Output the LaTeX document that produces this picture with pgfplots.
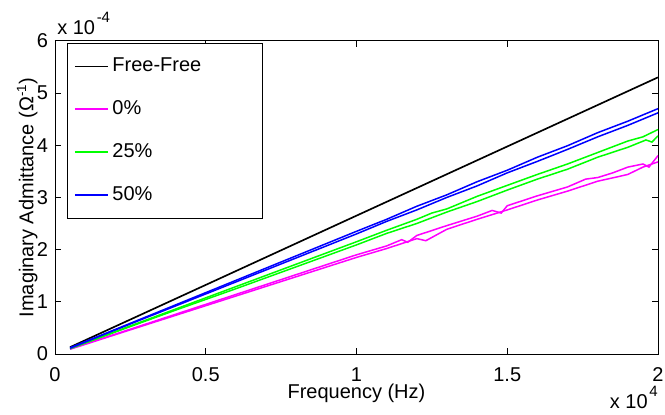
\documentclass[border=0pt]{standalone}
\usepackage{fontspec}
\setmainfont{Liberation Sans}
\usepackage{pgfplots}
\pgfplotsset{compat=1.18}
\definecolor{mmag}{rgb}{1,0,1}
\definecolor{mgreen}{rgb}{0,1,0}
\definecolor{mblue}{rgb}{0,0,1}
\newcommand{\expo}[1]{\hspace{1pt}\raisebox{7.6pt}{\fontsize{9}{10}\selectfont #1}}

\begin{document}
\fontsize{12}{14}\selectfont
\begin{tikzpicture}
\begin{axis}[
  scale only axis,
  width=362pt, height=188pt,
  xmin=0, xmax=2, ymin=0, ymax=6,
  xtick={0,0.5,1,1.5,2}, ytick={0,1,2,3,4,5,6},
  tick align=inside, major tick length=3.6pt,
  tick style={black, thin},
  clip mode=individual,
  /pgf/number format/assume math mode=true,
  xticklabel style={yshift=-3.8pt, inner xsep=0pt},
  xlabel={Frequency (Hz)},
  ylabel={Imaginary Admittance (Ω\textsuperscript{-1})},
  xlabel style={at={([yshift=-27pt]axis description cs:0.5,0)}, anchor=base},
  ylabel style={at={([xshift=-13pt]axis description cs:0,0.5)}, anchor=base},
  legend cell align=left,
  legend style={at={([xshift=7.2pt, yshift=-1.2pt]axis description cs:0,1)}, anchor=north west, draw=black,
    row sep=11.6pt, inner xsep=4pt, inner ysep=7pt},
  legend image code/.code={\draw[#1, line width=1.1pt] (0pt,0pt) -- (20pt,0pt);},
]
% Free-Free
\addplot[black, line width=1pt] coordinates {(0.05,0.13)(0.5,1.323)(1,2.65)(1.5,3.975)(2,5.30)};
\addlegendentry{\makebox[84pt][l]{Free-Free}}
% 0%
\addplot[mmag, line width=0.9pt] coordinates {(0.05,0.10)(0.2,0.38)(0.4,0.76)(0.6,1.14)(0.8,1.52)(1.0,1.90)(1.1,2.07)(1.15,2.19)(1.17,2.14)(1.2,2.27)(1.3,2.46)(1.4,2.64)(1.45,2.75)(1.48,2.70)(1.5,2.84)(1.6,3.03)(1.7,3.20)(1.76,3.35)(1.8,3.38)(1.85,3.47)(1.9,3.58)(1.95,3.64)(1.97,3.58)(2.0,3.80)};
\addlegendentry{0\%}
% 25%
\addplot[mgreen, line width=0.9pt] coordinates {(0.05,0.11)(0.2,0.43)(0.4,0.86)(0.6,1.29)(0.8,1.72)(1.0,2.15)(1.1,2.37)(1.2,2.58)(1.25,2.70)(1.3,2.78)(1.4,3.02)(1.5,3.23)(1.6,3.44)(1.7,3.64)(1.75,3.75)(1.8,3.86)(1.9,4.08)(1.95,4.16)(2.0,4.30)};
\addlegendentry{25\%}
% 50%
\addplot[mblue, line width=0.9pt] coordinates {(0.05,0.12)(0.2,0.47)(0.4,0.94)(0.6,1.41)(0.8,1.88)(1.0,2.35)(1.1,2.58)(1.2,2.83)(1.3,3.05)(1.4,3.30)(1.5,3.52)(1.6,3.77)(1.7,3.99)(1.8,4.24)(1.9,4.46)(2.0,4.70)};
\addlegendentry{50\%}
% second runs
\addplot[mmag, line width=0.9pt, forget plot] coordinates {(0.05,0.09)(0.2,0.37)(0.4,0.74)(0.6,1.11)(0.8,1.48)(1.0,1.85)(1.1,2.02)(1.2,2.21)(1.23,2.17)(1.3,2.39)(1.4,2.58)(1.5,2.76)(1.6,2.95)(1.7,3.12)(1.8,3.31)(1.87,3.40)(1.9,3.44)(1.95,3.58)(2.0,3.68)};
\addplot[mgreen, line width=0.9pt, forget plot] coordinates {(0.05,0.10)(0.2,0.42)(0.4,0.84)(0.6,1.25)(0.8,1.67)(1.0,2.09)(1.1,2.31)(1.2,2.50)(1.3,2.72)(1.4,2.92)(1.5,3.14)(1.6,3.35)(1.7,3.54)(1.8,3.77)(1.9,3.96)(1.96,4.10)(1.98,4.06)(2.0,4.18)};
\addplot[mblue, line width=0.9pt, forget plot] coordinates {(0.05,0.11)(0.2,0.46)(0.4,0.92)(0.6,1.38)(0.8,1.84)(1.0,2.30)(1.1,2.54)(1.2,2.76)(1.3,3.00)(1.4,3.22)(1.5,3.47)(1.6,3.69)(1.7,3.92)(1.8,4.16)(1.9,4.38)(2.0,4.62)};
\node[anchor=base west, inner sep=0pt] at ([xshift=1.2pt, yshift=3.6pt]rel axis cs:0,1) {x 10\expo{-4}};
\node[anchor=base east, inner sep=0pt] at ([xshift=0pt, yshift=-33pt]rel axis cs:1,0) {x 10\expo{4}};
\end{axis}
\pgfresetboundingbox
\path ([shift={(-33pt,-36.5pt)}]current axis.south west) rectangle ([shift={(4.2pt,24.5pt)}]current axis.north east);
\end{tikzpicture}
\end{document}
